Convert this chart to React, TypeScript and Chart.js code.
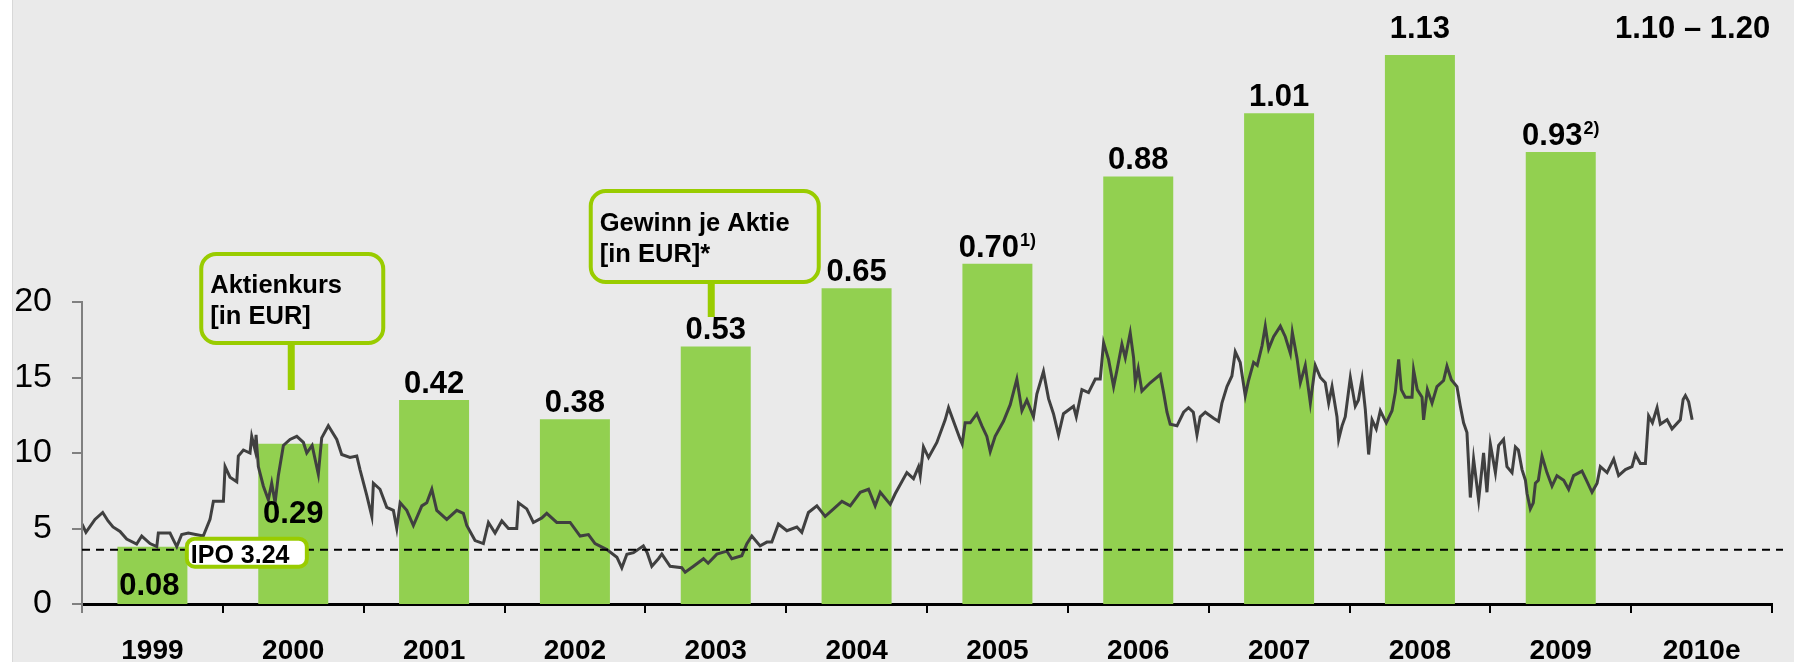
import React, { useEffect, useRef } from "react";
import { Chart, registerables } from "chart.js";

Chart.register(...registerables);

const FONT = '"Liberation Sans", Arial, Helvetica, sans-serif';

// ---- data -------------------------------------------------------------
const years = ["1999", "2000", "2001", "2002", "2003", "2004", "2005", "2006", "2007", "2008", "2009", "2010e"];
// EPS label texts and footnote markers
const epsLabels = ["0.08", "0.29", "0.42", "0.38", "0.53", "0.65", "0.70", "0.88", "1.01", "1.13", "0.93", "1.10 – 1.20"];
const epsNotes = ["", "", "", "", "", "", "1)", "", "", "", "2)", ""];
// bar heights as drawn in the picture (first two bars are drawn taller than scale)
const epsBars: (number | null)[] = [0.118, 0.33, 0.42, 0.38, 0.53, 0.65, 0.70, 0.88, 1.01, 1.13, 0.93, null];
const epsForecast = [1.1, 1.2];
const priceTickValues = [0, 5, 10, 15, 20];
const ipoLevel = 3.6;
const ipoText = "IPO 3.24";
const calloutPrice = ["Aktienkurs", "[in EUR]"];
const calloutEps = ["Gewinn je Aktie", "[in EUR]*"];

// share price [decimal year, EUR]
const sharePrice: [number, number][] = [
  [1999.000, 5.3], [1999.028, 4.75], [1999.092, 5.6], [1999.147, 6.06], [1999.185, 5.5], [1999.220, 5.1],
  [1999.270, 4.8], [1999.317, 4.3], [1999.388, 3.97], [1999.424, 4.5], [1999.483, 4.0], [1999.531, 3.8],
  [1999.542, 4.7], [1999.625, 4.7], [1999.646, 4.3], [1999.673, 3.8], [1999.708, 4.6], [1999.755, 4.7],
  [1999.861, 4.5], [1999.909, 5.6], [1999.933, 6.8], [2000.004, 6.8], [2000.016, 9.1], [2000.051, 8.4],
  [2000.099, 8.1], [2000.110, 9.8], [2000.146, 10.2], [2000.193, 10.0], [2000.205, 11.1], [2000.229, 10.2],
  [2000.236, 11.2], [2000.252, 9.1], [2000.288, 7.8], [2000.323, 6.9], [2000.347, 8.0], [2000.371, 6.7],
  [2000.394, 8.5], [2000.430, 10.5], [2000.477, 10.9], [2000.525, 11.1], [2000.572, 10.7], [2000.596, 10.0],
  [2000.634, 10.5], [2000.678, 8.6], [2000.702, 11.0], [2000.749, 11.8], [2000.809, 10.9], [2000.844, 9.9],
  [2000.903, 9.7], [2000.951, 9.8], [2000.974, 8.9], [2001.022, 7.2], [2001.058, 5.8], [2001.069, 8.0],
  [2001.116, 7.6], [2001.164, 6.4], [2001.211, 6.2], [2001.235, 5.0], [2001.259, 6.7], [2001.306, 6.2],
  [2001.353, 5.2], [2001.413, 6.5], [2001.448, 6.7], [2001.484, 7.6], [2001.519, 6.2], [2001.590, 5.6],
  [2001.661, 6.2], [2001.708, 6.0], [2001.732, 5.2], [2001.791, 4.2], [2001.850, 4.0], [2001.886, 5.4],
  [2001.933, 4.7], [2001.981, 5.5], [2002.028, 5.0], [2002.087, 5.0], [2002.099, 6.7], [2002.158, 6.3],
  [2002.205, 5.4], [2002.265, 5.7], [2002.300, 6.0], [2002.371, 5.4], [2002.466, 5.4], [2002.537, 4.5],
  [2002.596, 4.6], [2002.643, 4.0], [2002.727, 3.6], [2002.798, 3.1], [2002.833, 2.4], [2002.869, 3.3],
  [2002.916, 3.4], [2002.986, 3.85], [2003.013, 3.4], [2003.046, 2.5], [2003.093, 3.0], [2003.117, 3.3],
  [2003.176, 2.5], [2003.259, 2.4], [2003.283, 2.1], [2003.342, 2.5], [2003.413, 3.0], [2003.446, 2.7],
  [2003.508, 3.3], [2003.579, 3.5], [2003.614, 3.0], [2003.685, 3.2], [2003.721, 4.0], [2003.756, 4.5],
  [2003.815, 3.85], [2003.863, 4.1], [2003.898, 4.1], [2003.945, 5.3], [2004.005, 4.85], [2004.076, 5.1],
  [2004.111, 4.75], [2004.158, 6.06], [2004.218, 6.5], [2004.277, 5.8], [2004.325, 6.2], [2004.396, 6.8],
  [2004.455, 6.5], [2004.526, 7.4], [2004.585, 7.6], [2004.632, 6.5], [2004.668, 7.4], [2004.739, 6.6],
  [2004.774, 7.3], [2004.857, 8.7], [2004.904, 8.3], [2004.940, 9.1], [2004.952, 8.5], [2004.975, 10.4],
  [2005.011, 9.7], [2005.070, 10.7], [2005.129, 12.2], [2005.153, 13.0], [2005.200, 11.8], [2005.236, 10.9],
  [2005.250, 10.6], [2005.271, 12.0], [2005.307, 12.0], [2005.354, 12.6], [2005.390, 11.8], [2005.425, 11.1],
  [2005.449, 10.1], [2005.484, 11.1], [2005.543, 12.1], [2005.591, 13.2], [2005.638, 14.9], [2005.674, 12.8],
  [2005.709, 13.5], [2005.756, 12.4], [2005.780, 13.9], [2005.827, 15.4], [2005.863, 13.6], [2005.898, 12.6],
  [2005.934, 11.2], [2005.969, 12.6], [2006.040, 13.1], [2006.060, 12.4], [2006.100, 14.2], [2006.147, 14.0],
  [2006.195, 14.9], [2006.230, 14.9], [2006.254, 17.3], [2006.289, 16.2], [2006.325, 14.4], [2006.349, 15.5],
  [2006.384, 17.2], [2006.408, 16.3], [2006.443, 17.96], [2006.467, 16.3], [2006.479, 14.65], [2006.500, 15.6],
  [2006.526, 14.1], [2006.585, 14.65], [2006.656, 15.2], [2006.680, 14.0], [2006.704, 12.7], [2006.727, 11.9],
  [2006.775, 11.8], [2006.822, 12.7], [2006.857, 13.0], [2006.891, 12.7], [2006.917, 11.2], [2006.940, 12.4],
  [2006.976, 12.7], [2007.035, 12.3], [2007.070, 12.1], [2007.094, 13.3], [2007.130, 14.4], [2007.165, 15.1],
  [2007.189, 16.7], [2007.224, 16.0], [2007.260, 13.8], [2007.283, 14.8], [2007.319, 16.0], [2007.345, 15.8],
  [2007.379, 17.1], [2007.402, 18.4], [2007.426, 16.9], [2007.461, 17.7], [2007.509, 18.4], [2007.544, 17.7],
  [2007.580, 16.6], [2007.594, 18.0], [2007.627, 16.3], [2007.651, 14.65], [2007.686, 15.8], [2007.722, 13.3],
  [2007.757, 15.8], [2007.793, 15.0], [2007.828, 14.65], [2007.852, 13.3], [2007.876, 14.4], [2007.911, 12.4],
  [2007.923, 10.9], [2007.947, 11.8], [2007.970, 12.4], [2008.006, 15.0], [2008.041, 13.1], [2008.063, 13.5],
  [2008.089, 14.9], [2008.112, 12.9], [2008.136, 9.9], [2008.160, 12.2], [2008.190, 11.6], [2008.219, 12.8],
  [2008.261, 12.0], [2008.302, 12.8], [2008.325, 14.0], [2008.349, 16.2], [2008.368, 14.2], [2008.396, 13.7],
  [2008.444, 13.7], [2008.455, 15.5], [2008.481, 14.2], [2008.515, 13.7], [2008.526, 12.2], [2008.553, 14.2],
  [2008.586, 13.3], [2008.621, 14.4], [2008.668, 14.8], [2008.692, 15.75], [2008.723, 14.85], [2008.763, 14.4],
  [2008.787, 13.1], [2008.810, 12.0], [2008.834, 11.35], [2008.858, 7.05], [2008.881, 9.6], [2008.917, 6.9],
  [2008.952, 10.0], [2008.976, 7.4], [2009.000, 10.6], [2009.036, 8.7], [2009.059, 10.5], [2009.094, 10.9],
  [2009.118, 9.1], [2009.154, 8.7], [2009.178, 10.4], [2009.199, 10.2], [2009.225, 8.9], [2009.249, 8.2],
  [2009.261, 7.3], [2009.284, 6.3], [2009.305, 6.7], [2009.320, 8.0], [2009.341, 8.2], [2009.367, 9.8],
  [2009.402, 8.7], [2009.438, 7.8], [2009.473, 8.5], [2009.521, 8.2], [2009.556, 7.6], [2009.591, 8.5],
  [2009.651, 8.8], [2009.682, 8.2], [2009.722, 7.4], [2009.758, 8.0], [2009.781, 9.1], [2009.829, 8.7],
  [2009.876, 9.6], [2009.911, 8.5], [2009.959, 8.9], [2010.006, 9.1], [2010.030, 9.9], [2010.065, 9.3],
  [2010.101, 9.3], [2010.124, 12.45], [2010.151, 12.0], [2010.184, 13.0], [2010.207, 11.9], [2010.255, 12.2],
  [2010.290, 11.6], [2010.349, 12.2], [2010.369, 13.55], [2010.385, 13.8], [2010.408, 13.4], [2010.433, 12.2],
];

// ---- drawing helpers ----------------------------------------------------
const LIME = "#99CC00";

function roundRectPath(ctx: CanvasRenderingContext2D, x: number, y: number, w: number, h: number, r: number) {
  ctx.beginPath();
  ctx.moveTo(x + r, y);
  ctx.lineTo(x + w - r, y);
  ctx.arcTo(x + w, y, x + w, y + r, r);
  ctx.lineTo(x + w, y + h - r);
  ctx.arcTo(x + w, y + h, x + w - r, y + h, r);
  ctx.lineTo(x + r, y + h);
  ctx.arcTo(x, y + h, x, y + h - r, r);
  ctx.lineTo(x, y + r);
  ctx.arcTo(x, y, x + r, y, r);
  ctx.closePath();
}

function drawCallout(
  ctx: CanvasRenderingContext2D,
  left: number, top: number, w: number, h: number,
  stemX: number, stemBottom: number, lines: string[], baselines: number[]
) {
  ctx.save();
  ctx.fillStyle = LIME;
  ctx.fillRect(stemX - 3.5, top + h, 7, stemBottom - (top + h));
  roundRectPath(ctx, left, top, w, h, 15);
  ctx.fillStyle = "#EAEAEA";
  ctx.fill();
  ctx.lineWidth = 4;
  ctx.strokeStyle = LIME;
  ctx.stroke();
  ctx.fillStyle = "#000";
  ctx.font = `bold 25.5px ${FONT}`;
  ctx.textAlign = "left";
  ctx.textBaseline = "alphabetic";
  lines.forEach((t, i) => ctx.fillText(t, left + 9, baselines[i]));
  ctx.restore();
}

function drawValueLabel(ctx: CanvasRenderingContext2D, text: string, note: string, cx: number, baseline: number) {
  ctx.save();
  ctx.fillStyle = "#000";
  ctx.textAlign = "left";
  ctx.textBaseline = "alphabetic";
  ctx.font = `bold 31px ${FONT}`;
  const w1 = ctx.measureText(text).width;
  ctx.font = `bold 18px ${FONT}`;
  const w2 = note ? ctx.measureText(note).width + 1 : 0;
  const start = cx - (w1 + w2) / 2;
  ctx.font = `bold 31px ${FONT}`;
  ctx.fillText(text, start, baseline);
  if (note) {
    ctx.font = `bold 18px ${FONT}`;
    ctx.fillText(note, start + w1 + 1, baseline - 11);
  }
  ctx.restore();
}

const overlayPlugin = {
  id: "overlay",
  beforeDraw(chart: any) {
    const { ctx, width, height } = chart;
    ctx.save();
    ctx.fillStyle = "#FFFFFF";
    ctx.fillRect(0, 0, width, height);
    ctx.fillStyle = "#EAEAEA";
    ctx.fillRect(13, 0, width - 13, height);
    ctx.fillStyle = "#D8D8D8";
    ctx.fillRect(12, 0, 1, height);
    ctx.restore();
  },
  afterDatasetsDraw(chart: any) {
    const { ctx, chartArea } = chart;
    const xs = chart.scales.x;
    const ys = chart.scales.y;
    const y2 = chart.scales.y2;

    // partial left axis (0..20)
    ctx.save();
    ctx.strokeStyle = "#808080";
    ctx.lineWidth = 2;
    ctx.beginPath();
    ctx.moveTo(chartArea.left, ys.getPixelForValue(priceTickValues[priceTickValues.length - 1]) - 1);
    ctx.lineTo(chartArea.left, ys.getPixelForValue(0) + 9);
    ctx.stroke();
    ctx.restore();

    // IPO dashed line
    const ipoY = ys.getPixelForValue(ipoLevel);
    ctx.save();
    ctx.strokeStyle = "#000";
    ctx.lineWidth = 2;
    ctx.setLineDash([8, 6]);
    ctx.beginPath();
    ctx.moveTo(chartArea.left, ipoY);
    ctx.lineTo(chartArea.right + 11, ipoY);
    ctx.stroke();
    ctx.restore();

    // value labels
    const meta = chart.getDatasetMeta(0);
    epsLabels.forEach((lab, i) => {
      const cx = xs.getPixelForValue(i);
      if (epsBars[i] == null) {
        const mid = (epsForecast[0] + epsForecast[1]) / 2;
        drawValueLabel(ctx, lab, epsNotes[i], cx - 9, y2.getPixelForValue(mid) - 7);
        return;
      }
      const bar = meta.data[i];
      if (i === 0) {
        drawValueLabel(ctx, lab, epsNotes[i], bar.x - 3, y2.getPixelForValue(0) - 9);
      } else if (i === 1) {
        drawValueLabel(ctx, lab, epsNotes[i], bar.x, bar.y + 79);
      } else if (i === 9) {
        drawValueLabel(ctx, lab, epsNotes[i], bar.x, bar.y - 17);
      } else {
        drawValueLabel(ctx, lab, epsNotes[i], bar.x, bar.y - 7);
      }
    });

    // IPO box
    const boundary = (xs.getPixelForValue(0) + xs.getPixelForValue(1)) / 2;
    ctx.save();
    roundRectPath(ctx, boundary - 36, ipoY - 11, 120, 28, 8);
    ctx.fillStyle = "#FFFFFF";
    ctx.fill();
    ctx.lineWidth = 4;
    ctx.strokeStyle = LIME;
    ctx.stroke();
    ctx.fillStyle = "#000";
    ctx.font = `bold 25px ${FONT}`;
    ctx.textAlign = "left";
    ctx.textBaseline = "alphabetic";
    ctx.fillText(ipoText, boundary - 32, ipoY + 13);
    ctx.restore();

    // callouts
    const c1 = xs.getPixelForValue(1);
    drawCallout(ctx, c1 - 92, 254, 182, 89, c1 - 2, 390, calloutPrice, [293, 324]);
    const c2 = xs.getPixelForValue(4);
    drawCallout(ctx, c2 - 125, 191, 228, 91, c2 - 4.5, 317, calloutEps, [231, 262]);
  },
};

export default function App() {
  const canvasRef = useRef<HTMLCanvasElement | null>(null);

  useEffect(() => {
    document.body.style.margin = "0";
    const canvas = canvasRef.current;
    if (!canvas) return;
    const chart = new Chart(canvas, {
      type: "bar",
      data: {
        labels: years,
        datasets: [
          {
            type: "bar",
            data: epsBars as any,
            xAxisID: "x",
            yAxisID: "y2",
            backgroundColor: "#92D050",
            borderWidth: 0,
            grouped: false,
            barPercentage: 1,
            categoryPercentage: 0.497,
            order: 2,
          } as any,
          {
            type: "line",
            data: sharePrice.map(([t, v]) => ({ x: t, y: v })),
            xAxisID: "x2",
            yAxisID: "y",
            borderColor: "#404040",
            borderWidth: 3,
            borderJoinStyle: "miter",
            pointRadius: 0,
            fill: false,
            tension: 0,
            order: 1,
          } as any,
        ],
      },
      options: {
        animation: false,
        responsive: false,
        maintainAspectRatio: false,
        devicePixelRatio: 1,
        layout: { padding: { left: 0, right: 22, top: 0, bottom: 0 } },
        plugins: { legend: { display: false }, tooltip: { enabled: false } },
        scales: {
          x: {
            type: "category",
            position: "bottom",
            offset: true,
            z: 1,
            grid: { display: true, drawOnChartArea: false, offset: true, tickLength: 9, color: "#000", lineWidth: 2 },
            border: { display: true, color: "#000", width: 3 },
            ticks: { font: { family: FONT, size: 28, weight: "bold" }, color: "#000", padding: 21, maxRotation: 0, autoSkip: false },
            afterFit: (s: any) => { s.height = 58; s.paddingLeft = 0; s.paddingRight = 0; },
          },
          x2: { type: "linear", min: 1999, max: 2011, offset: false, display: false, grid: { offset: false } },
          y: {
            type: "linear",
            position: "left",
            min: 0,
            max: 40,
            afterBuildTicks: (s: any) => { s.ticks = [0, 5, 10, 15, 20, 25, 30, 35, 40].map((v) => ({ value: v })); },
            ticks: {
              callback: (v: any) => (priceTickValues.includes(Number(v)) ? String(v) : null),
              font: { family: FONT, size: 34 },
              color: "#000",
              padding: 20,
            },
            grid: { display: true, drawOnChartArea: false, tickLength: 10, color: "#808080", lineWidth: 2 },
            border: { display: false },
            afterFit: (s: any) => { s.width = 82; s.paddingTop = 0; s.paddingBottom = 0; },
          },
          y2: { type: "linear", display: false, min: 0, max: 1.243 },
        },
      } as any,
      plugins: [overlayPlugin],
    });
    return () => chart.destroy();
  }, []);

  return (
    <div style={{ width: 1794, height: 662, position: "relative", background: "#FFFFFF" }}>
      <canvas ref={canvasRef} width={1794} height={662} style={{ display: "block", width: 1794, height: 662 }} />
    </div>
  );
}
